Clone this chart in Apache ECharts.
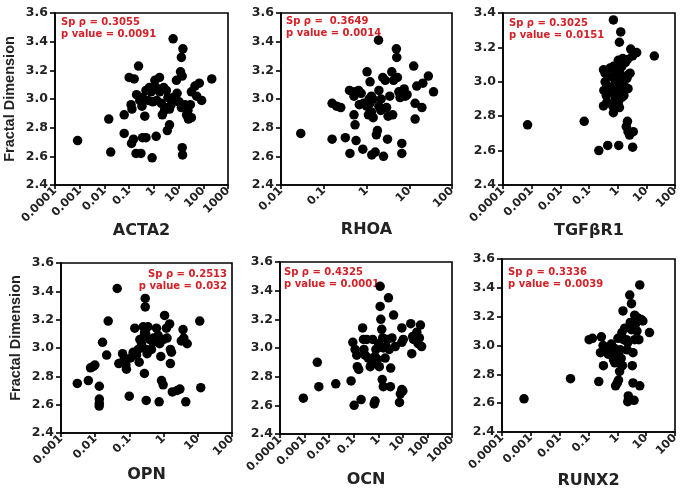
<!DOCTYPE html>
<html><head><meta charset="utf-8">
<script src="https://cdn.jsdelivr.net/npm/echarts@6/dist/echarts.min.js"></script>
<style>html,body{margin:0;padding:0;background:#fff}#c{width:685px;height:492px}</style>
</head><body><div id="c"></div>
<script>
// ---------- data (x = expression, y = fractal dimension) ----------
const acta2 = [[0.00082,2.71],[0.015,2.86],[0.018,2.63],[0.063,2.89],[0.063,2.76],[0.10,3.15],[0.16,3.14],[0.24,3.23],[0.20,3.03],[0.12,2.96],[0.13,2.93],[0.125,2.69],[0.15,2.72],[0.19,2.62],[0.30,2.62],[0.35,2.73],[0.48,2.73],[0.33,2.95],[0.43,2.88],[0.48,3.06],[0.66,3.08],[0.85,2.59],[0.58,2.99],[0.77,3.05],[1.1,3.13],[1.7,3.15],[1.24,2.74],[1.3,2.99],[1.7,3.05],[2.5,3.08],[3.2,3.06],[2.2,2.89],[2.9,2.94],[3.5,2.78],[4.3,2.82],[3.7,3.01],[6.0,3.42],[8.2,3.13],[7.0,3.01],[8.7,3.04],[10.5,2.98],[12,3.19],[13,3.29],[15,3.35],[14,3.16],[13,2.94],[18,2.96],[21,2.89],[14,2.66],[14.5,2.61],[24,2.92],[30,2.96],[33,3.05],[46,3.09],[54,3.02],[33,2.87],[69,3.11],[86,2.99],[220,3.14],[4.3,2.93],[0.9,2.98],[2.0,2.97],[6.0,3.01],[1.24,3.08],[0.35,3.01],[0.27,2.99],[2.7,2.92],[5,2.96],[25,2.86]];
const rhoa = [[0.029,2.76],[0.157,2.72],[0.157,2.97],[0.20,2.95],[0.25,2.94],[0.32,2.73],[0.40,3.06],[0.41,2.62],[0.51,3.02],[0.54,3.05],[0.51,2.89],[0.57,2.71],[0.54,2.82],[0.65,3.06],[0.75,3.04],[0.85,2.97],[0.82,2.65],[1.03,3.19],[1.11,2.89],[1.21,3.12],[1.2,2.97],[1.3,3.02],[1.3,2.91],[1.33,2.61],[1.42,3.00],[1.43,2.87],[1.6,2.63],[1.7,2.75],[1.8,2.78],[1.91,3.41],[1.95,2.95],[1.95,3.06],[2.16,2.92],[2.2,3.00],[2.4,3.15],[2.5,2.60],[2.74,3.13],[2.95,2.94],[3.1,2.72],[3.2,2.88],[3.5,3.02],[3.9,3.19],[4.1,2.89],[4.3,3.13],[5.0,3.35],[5.1,3.29],[5.3,3.15],[5.7,3.05],[6.1,3.01],[6.7,2.69],[6.7,2.62],[7.6,3.07],[8.1,3.02],[8.9,3.03],[12.7,3.23],[13.7,2.97],[13.7,2.86],[15,3.09],[19.8,2.94],[20.8,3.11],[28,3.16],[37,3.05],[0.68,2.96],[1.0,2.95],[1.15,3.00]];
const tgfbr1 = [[0.00072,2.75],[0.068,2.77],[0.22,2.60],[0.45,2.63],[1.09,2.63],[3.34,2.62],[0.71,3.36],[1.28,3.29],[1.15,3.23],[2.85,3.19],[4.6,3.17],[3.3,3.15],[19,3.15],[2.2,3.13],[1.7,3.11],[1.4,3.09],[1.17,3.07],[0.88,3.06],[0.71,3.09],[0.54,3.08],[0.365,3.05],[0.32,3.07],[0.365,3.00],[0.42,2.98],[0.54,2.97],[0.62,3.03],[0.81,3.01],[0.93,2.96],[1.21,2.99],[1.4,2.95],[1.8,2.97],[2.3,3.04],[2.7,3.05],[2.3,2.96],[0.33,2.95],[0.40,2.92],[0.57,2.94],[0.81,2.90],[1.05,2.88],[0.67,2.86],[0.71,2.82],[0.42,2.88],[0.32,2.86],[1.4,2.91],[2.2,2.77],[2.0,2.74],[2.3,2.71],[3.5,2.71],[2.6,2.69],[1.05,3.125],[1.5,3.135],[1.9,3.115],[1.21,3.04],[1.5,3.01],[2.1,3.02],[1.65,2.92],[0.98,2.92],[1.15,2.85]];
const opn = [[0.0030,2.75],[0.0063,2.77],[0.0073,2.86],[0.0088,2.87],[0.0098,2.88],[0.0132,2.73],[0.0132,2.64],[0.0132,2.61],[0.0131,2.59],[0.0164,3.04],[0.0216,2.95],[0.024,3.19],[0.044,3.42],[0.049,2.89],[0.063,2.96],[0.070,2.92],[0.079,2.88],[0.082,2.85],[0.099,2.66],[0.108,2.93],[0.129,2.97],[0.144,3.14],[0.162,2.95],[0.181,2.99],[0.193,2.90],[0.202,3.06],[0.226,3.03],[0.253,3.15],[0.265,3.08],[0.28,3.11],[0.30,3.10],[0.31,2.99],[0.33,2.96],[0.29,3.29],[0.29,3.35],[0.275,2.82],[0.31,2.63],[0.35,3.15],[0.39,3.06],[0.44,2.99],[0.49,3.04],[0.51,3.07],[0.62,3.14],[0.69,3.09],[0.74,2.62],[0.77,3.03],[0.83,2.94],[0.87,2.77],[0.97,2.74],[1.0,3.06],[1.07,3.23],[1.21,3.14],[1.26,3.07],[1.5,3.17],[1.58,2.99],[1.70,2.97],[1.58,2.89],[1.8,2.69],[2.5,2.70],[3.0,2.71],[3.7,3.13],[3.9,3.07],[3.3,3.05],[4.45,2.62],[4.9,3.03],[11.4,3.19],[12.2,2.72]];
const ocn = [[0.00089,2.65],[0.0033,2.90],[0.0038,2.73],[0.0186,2.75],[0.078,2.77],[0.104,2.60],[0.092,3.04],[0.114,2.99],[0.133,2.95],[0.14,2.87],[0.16,2.85],[0.20,2.64],[0.23,3.14],[0.25,3.06],[0.26,2.99],[0.29,2.95],[0.34,3.06],[0.39,2.93],[0.54,2.89],[0.59,3.06],[0.68,2.61],[0.74,2.63],[0.74,2.94],[0.80,2.99],[0.86,2.89],[1.02,3.03],[1.1,2.87],[1.19,3.43],[1.19,3.29],[1.27,3.20],[1.38,3.13],[1.51,3.07],[1.6,3.00],[1.45,2.78],[1.6,2.73],[1.9,2.93],[2.1,3.01],[2.35,3.06],[2.6,3.35],[2.8,2.99],[3.1,2.73],[3.2,2.86],[3.6,3.07],[4.2,3.23],[4.9,3.01],[7.9,2.68],[9.1,2.71],[10,2.70],[7.3,2.62],[9.1,3.14],[10.4,3.06],[9.1,3.04],[21,3.17],[25,3.08],[23,2.96],[27,3.06],[37,3.11],[42,3.03],[52,3.16],[58,3.01],[47,3.07],[0.63,2.90],[0.47,2.87],[0.92,2.92]];
const runx2 = [[0.00058,2.63],[0.0238,2.77],[0.105,3.04],[0.137,3.05],[0.227,2.75],[0.28,3.06],[0.32,3.00],[0.26,2.95],[0.33,2.86],[0.42,2.98],[0.48,2.94],[0.54,2.97],[0.62,3.01],[0.70,2.92],[0.74,2.90],[0.82,2.88],[0.87,2.72],[1.0,2.74],[1.05,3.05],[1.1,2.76],[1.2,2.82],[1.27,2.97],[1.36,2.91],[1.44,3.09],[1.5,2.86],[1.57,3.24],[1.65,3.04],[1.8,3.12],[2.06,3.04],[2.2,2.97],[2.3,2.61],[2.4,2.65],[2.5,2.63],[2.7,3.35],[2.8,3.16],[3.1,3.29],[3.3,2.86],[3.5,2.74],[3.8,2.62],[4.0,3.04],[4.3,3.15],[4.6,3.18],[4.8,3.10],[5.2,3.19],[5.6,3.04],[6.0,2.72],[6.0,3.42],[6.7,3.18],[7.7,3.17],[13,3.09],[3.1,3.11],[2.3,3.02],[3.5,2.95],[4.0,3.21],[0.92,2.96],[1.0,2.92],[0.66,2.95],[0.8,2.98]];

const xNames = ['ACTA2','RHOA','TGFβR1','OPN','OCN','RUNX2'];
const xExpRange = [[-4,3],[-2,2],[-4,2],[-3,2],[-4,3],[-4,2]];
const xTickLabels = ['0.0001','0.001','0.01','0.1','1','10','100','1000'];
const yTickLabels = ['2.4','2.6','2.8','3.0','3.2','3.4','3.6'];
const yMax = [3.6,3.6,3.4,3.6,3.6,3.6];
const rhoText = ['Sp ρ = 0.3055','Sp ρ =  0.3649','Sp ρ = 0.3025','Sp ρ = 0.2513','Sp ρ = 0.4325','Sp ρ = 0.3336'];
const pText = ['p value = 0.0091','p value = 0.0014','p value = 0.0151','p value = 0.032','p value = 0.0001','p value = 0.0039'];
const panelData = [acta2, rhoa, tgfbr1, opn, ocn, runx2];

// ---------- layout ----------
const grids = [
  {left:55, top:13, width:173, height:172},
  {left:281, top:13, width:171, height:172},
  {left:503, top:13, width:172, height:172},
  {left:61, top:263, width:171, height:170},
  {left:280, top:262, width:172, height:172},
  {left:502, top:259, width:173, height:173}
];
const xNameGap = [38, 37, 38, 34, 38, 41];
const textPos = [
  {x:61, y:22, align:'left'},
  {x:286, y:21, align:'left'},
  {x:509, y:23, align:'left'},
  {x:227, y:274, align:'right'},
  {x:284, y:272, align:'left'},
  {x:508, y:272, align:'left'}
];
const red = '#d42027';
const labelFont = 'DejaVu Sans';

const option = {
  animation:false,
  backgroundColor:'#fff',
  grid: grids.map(g => Object.assign({show:true, borderColor:'#000', borderWidth:1.6, backgroundColor:'transparent'}, g)),
  xAxis: grids.map((g,i) => ({
    type:'log', logBase:10, gridIndex:i,
    min: Math.pow(10, xExpRange[i][0]), max: Math.pow(10, xExpRange[i][1]),
    name: xNames[i], nameLocation:'middle', nameGap: xNameGap[i], nameMoveOverlap:false,
    nameTextStyle:{fontFamily:labelFont, fontWeight:'bold', fontSize:16, color:'#222'},
    axisLine:{show:true, lineStyle:{color:'#000', width:1.6}},
    axisTick:{show:true, inside:false, length:4, lineStyle:{color:'#000', width:1.6}},
    minorTick:{show:false}, splitLine:{show:false},
    axisLabel:{rotate:45, fontFamily:labelFont, fontWeight:'bold', fontSize:11.5, color:'#222', margin:4,
      formatter: v => xTickLabels[Math.round(Math.log10(v)) + 4]}
  })),
  yAxis: grids.map((g,i) => ({
    type:'value', gridIndex:i, min:2.4, max:yMax[i], interval:0.2,
    name: (i===0||i===3) ? 'Fractal Dimension' : '', nameLocation:'middle', nameGap:38, nameRotate:90,
    nameTextStyle:{fontFamily:'Liberation Sans', fontWeight:'bold', fontSize:14.5, color:'#222',
      padding: i===3 ? [0,0,0,20] : 0},
    axisLine:{show:true, lineStyle:{color:'#000', width:1.6}},
    axisTick:{show:true, inside:false, length:5, lineStyle:{color:'#000', width:1.6}},
    splitLine:{show:false},
    axisLabel:{fontFamily:labelFont, fontWeight:'bold', fontSize:12.5, color:'#222', margin:7,
      formatter: v => yTickLabels[Math.round((v-2.4)/0.2)]}
  })),
  series: panelData.map((d,i) => ({
    type:'scatter', xAxisIndex:i, yAxisIndex:i, data:d, symbol:'circle', symbolSize:9.5,
    itemStyle:{color:'#000', opacity:1}
  })),
  graphic: textPos.map((p,i) => ({
    type:'group', children:[
      {type:'text', x:p.x, y:p.y, style:{text:rhoText[i], fill:red, font:'bold 10px "DejaVu Sans"', textAlign:p.align, textVerticalAlign:'middle'}},
      {type:'text', x:p.x, y:p.y+12, style:{text:pText[i], fill:red, font:'bold 10px "DejaVu Sans"', textAlign:p.align, textVerticalAlign:'middle'}}
    ]
  }))
};
const chart = echarts.init(document.getElementById('c'), null, {renderer:'canvas'});
chart.setOption(option);
</script></body></html>
